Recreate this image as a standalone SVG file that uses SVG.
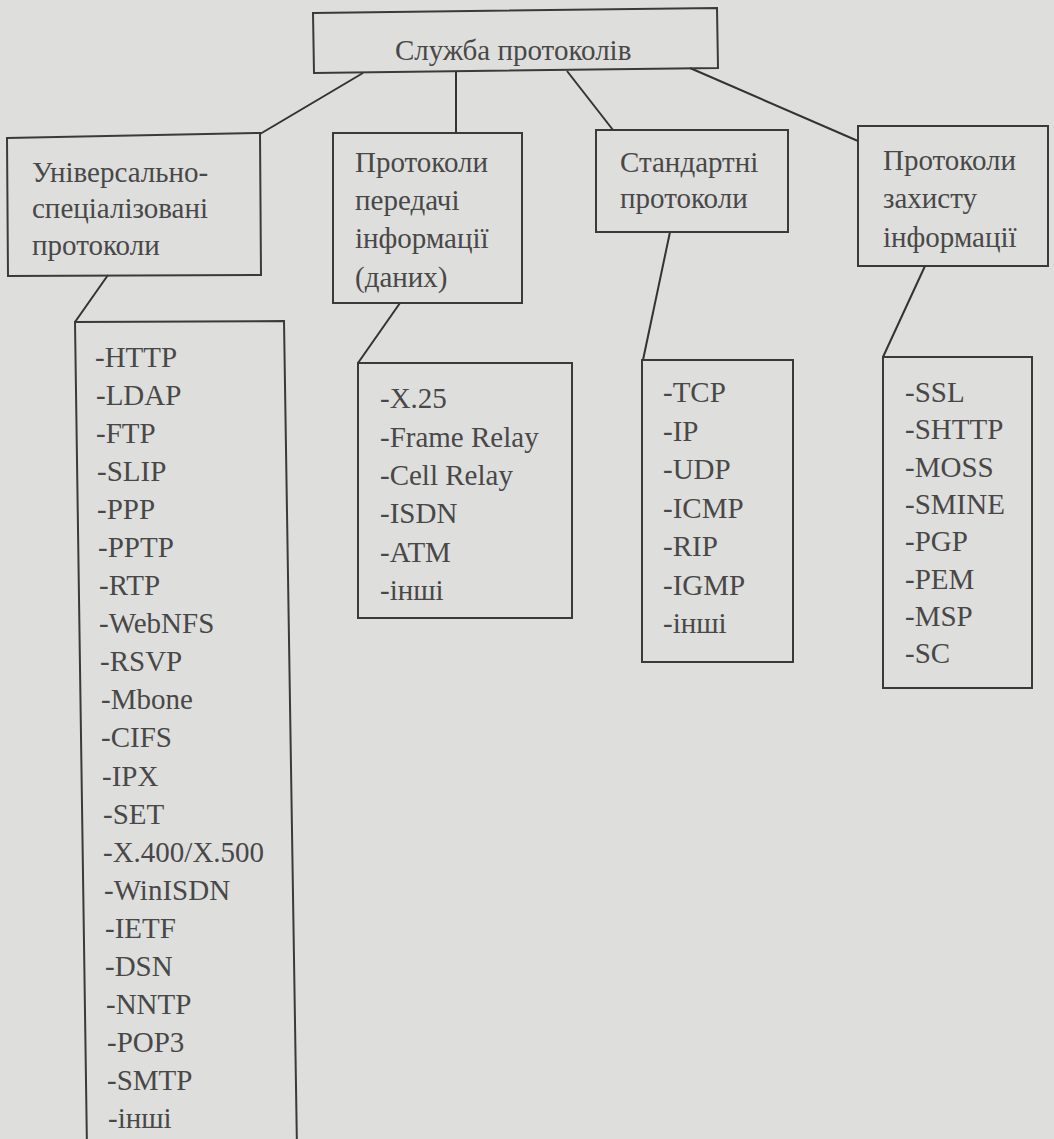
<svg xmlns="http://www.w3.org/2000/svg" width="1054" height="1139" viewBox="0 0 1054 1139">
<style>
  .box { fill: none; stroke: #3a3a3a; stroke-width: 2; }
  .ln { stroke: #333; stroke-width: 2; fill: none; }
  text { font-family: "Liberation Serif", "Times New Roman", serif; font-size: 29px; fill: #484848; }
</style>
<rect x="0" y="0" width="1054" height="1139" fill="#dededc"/>
<g id="connectors">
  <line class="ln" x1="363" y1="73" x2="260" y2="134"/>
  <line class="ln" x1="456" y1="72" x2="456" y2="133"/>
  <line class="ln" x1="567" y1="71" x2="613" y2="130"/>
  <line class="ln" x1="690" y1="68" x2="858" y2="141"/>
  <line class="ln" x1="108" y1="275" x2="75" y2="322"/>
  <line class="ln" x1="400" y1="303" x2="358" y2="363"/>
  <line class="ln" x1="670" y1="232" x2="643" y2="360"/>
  <line class="ln" x1="925" y1="266" x2="883" y2="357"/>
</g>
<g id="root">
  <path class="box" d="M313,13 L717,8 L718,68 L314,73 Z"/>
  <text x="395" y="60">Служба протоколів</text>
</g>
<g id="universal">
  <path class="box" d="M7,138 L260,133 L261,275 L8,276 Z"/>
  <text x="32" y="182">Універсально-</text>
  <text x="32" y="218">спеціалізовані</text>
  <text x="32" y="255">протоколи</text>
</g>
<g id="transfer">
  <rect class="box" x="333" y="133" width="189" height="170"/>
  <text x="355" y="172">Протоколи</text>
  <text x="355" y="210">передачі</text>
  <text x="355" y="248">інформації</text>
  <text x="355" y="287">(даних)</text>
</g>
<g id="standard">
  <rect class="box" x="596" y="130" width="192" height="102"/>
  <text x="620" y="172">Стандартні</text>
  <text x="620" y="208">протоколи</text>
</g>
<g id="security">
  <rect class="box" x="858" y="126" width="190" height="140"/>
  <text x="883" y="170">Протоколи</text>
  <text x="883" y="208">захисту</text>
  <text x="883" y="247">інформації</text>
</g>
<g id="list-universal">
  <path class="box" d="M75,322 L284,321 L297,1150 L87,1150 Z"/>
  <text x="95" y="367">-HTTP</text>
  <text x="96" y="405">-LDAP</text>
  <text x="96" y="443">-FTP</text>
  <text x="97" y="481">-SLIP</text>
  <text x="97" y="519">-PPP</text>
  <text x="98" y="557">-PPTP</text>
  <text x="99" y="595">-RTP</text>
  <text x="99" y="633">-WebNFS</text>
  <text x="100" y="671">-RSVP</text>
  <text x="101" y="709">-Mbone</text>
  <text x="101" y="747">-CIFS</text>
  <text x="102" y="786">-IPX</text>
  <text x="103" y="824">-SET</text>
  <text x="103" y="862">-X.400/X.500</text>
  <text x="104" y="900">-WinISDN</text>
  <text x="105" y="938">-IETF</text>
  <text x="105" y="976">-DSN</text>
  <text x="106" y="1014">-NNTP</text>
  <text x="107" y="1052">-POP3</text>
  <text x="107" y="1090">-SMTP</text>
  <text x="108" y="1128">-інші</text>
</g>
<g id="list-transfer">
  <rect class="box" x="358" y="363" width="214" height="255"/>
  <text x="380" y="408">-X.25</text>
  <text x="380" y="447">-Frame Relay</text>
  <text x="380" y="485">-Cell Relay</text>
  <text x="380" y="523">-ISDN</text>
  <text x="380" y="562">-ATM</text>
  <text x="380" y="600">-інші</text>
</g>
<g id="list-standard">
  <rect class="box" x="642" y="360" width="151" height="302"/>
  <text x="663" y="402">-TCP</text>
  <text x="663" y="441">-IP</text>
  <text x="663" y="479">-UDP</text>
  <text x="663" y="518">-ICMP</text>
  <text x="663" y="556">-RIP</text>
  <text x="663" y="595">-IGMP</text>
  <text x="663" y="633">-інші</text>
</g>
<g id="list-security">
  <rect class="box" x="883" y="357" width="149" height="331"/>
  <text x="905" y="402">-SSL</text>
  <text x="905" y="439">-SHTTP</text>
  <text x="905" y="477">-MOSS</text>
  <text x="905" y="514">-SMINE</text>
  <text x="905" y="551">-PGP</text>
  <text x="905" y="589">-PEM</text>
  <text x="905" y="626">-MSP</text>
  <text x="905" y="663">-SC</text>
</g>
</svg>
